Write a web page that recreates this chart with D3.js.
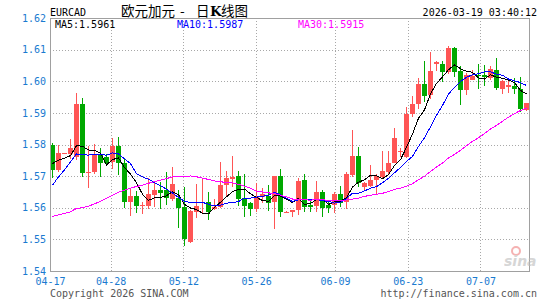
<!DOCTYPE html>
<html>
<head>
<meta charset="utf-8">
<style>
  body { margin: 0; background: #fff; }
  svg text { font-family: "DejaVu Sans Mono", monospace; font-size: 10px; }
  .grid line { stroke: #a8a8a8; stroke-dasharray: 1,2; shape-rendering: crispEdges; }
  .frame { fill: none; stroke: #a0a0a0; shape-rendering: crispEdges; }
  .ma { fill: none; stroke-width: 1; shape-rendering: crispEdges; }
</style>
</head>
<body>
<div id="chart"></div>
<script src="https://d3js.org/d3.v7.min.js"></script>
<script>
'use strict';

// daily candles, Mon-Sat bars
var dates = ['04-17','04-18','04-19','04-20','04-21','04-22','04-23','04-24','04-25','04-27',
  '04-28','04-29','04-30','05-01','05-02','05-04','05-05','05-06','05-07','05-08',
  '05-09','05-11','05-12','05-13','05-14','05-15','05-16','05-18','05-19','05-20',
  '05-21','05-22','05-23','05-25','05-26','05-27','05-28','05-29','05-30','05-31',
  '06-01','06-02','06-03','06-04','06-05','06-06','06-08','06-09','06-10','06-11',
  '06-12','06-13','06-15','06-16','06-17','06-18','06-19','06-20','06-22','06-23',
  '06-24','06-25','06-26','06-27','06-29','06-30','07-01','07-02','07-03','07-04',
  '07-06','07-07','07-08','07-09','07-10','07-11','07-13','07-14','07-15','07-16'];

var opens = [1.5797,1.5719,1.5771,1.5770,1.5761,1.5927,1.5711,1.5714,1.5770,1.5760,
  1.5745,1.5795,1.5740,1.5618,1.5638,1.5606,1.5605,1.5640,1.5657,1.5655,
  1.5628,1.5630,1.5601,1.5492,1.5587,1.5615,1.5618,1.5596,1.5603,1.5673,
  1.5691,1.5700,1.5630,1.5615,1.5596,1.5635,1.5638,1.5618,1.5700,1.5586,
  1.5586,1.5592,1.5687,1.5610,1.5606,1.5650,1.5608,1.5610,1.5645,1.5619,
  1.5703,1.5764,1.5666,1.5670,1.5687,1.5698,1.5714,1.5743,1.5776,1.5761,
  1.5896,1.5927,1.5991,1.5956,1.6055,1.6054,1.6030,1.6105,1.6032,1.5972,
  1.6005,1.6019,1.6019,1.6011,1.6035,1.5974,1.5982,1.5984,1.5977,1.5909];

var highs = [1.5806,1.5800,1.5774,1.5817,1.5962,1.5946,1.5795,1.5801,1.5789,1.5770,
  1.5819,1.5824,1.5756,1.5662,1.5654,1.5618,1.5695,1.5682,1.5682,1.5713,
  1.5730,1.5656,1.5666,1.5593,1.5675,1.5693,1.5650,1.5627,1.5744,1.5716,
  1.5763,1.5716,1.5706,1.5617,1.5678,1.5663,1.5672,1.5700,1.5721,1.5589,
  1.5592,1.5693,1.5708,1.5627,1.5684,1.5656,1.5624,1.5651,1.5668,1.5714,
  1.5845,1.5793,1.5682,1.5735,1.5706,1.5780,1.5780,1.5852,1.5790,1.5919,
  1.5954,1.6011,1.6064,1.6091,1.6064,1.6064,1.6112,1.6109,1.6048,1.6026,
  1.6037,1.6054,1.6051,1.6048,1.6073,1.6003,1.6003,1.6009,1.6012,1.5930];

var lows = [1.5693,1.5714,1.5769,1.5753,1.5751,1.5698,1.5663,1.5706,1.5698,1.5733,
  1.5724,1.5702,1.5600,1.5575,1.5582,1.5581,1.5597,1.5603,1.5596,1.5608,
  1.5622,1.5537,1.5480,1.5489,1.5568,1.5584,1.5561,1.5593,1.5598,1.5635,
  1.5666,1.5606,1.5572,1.5575,1.5587,1.5614,1.5589,1.5533,1.5572,1.5585,
  1.5570,1.5577,1.5587,1.5587,1.5587,1.5572,1.5584,1.5584,1.5603,1.5596,
  1.5698,1.5666,1.5654,1.5666,1.5640,1.5691,1.5706,1.5740,1.5761,1.5756,
  1.5887,1.5912,1.5935,1.5945,1.6032,1.5998,1.6024,1.6012,1.5924,1.5956,
  1.6003,1.5975,1.5985,1.6003,1.5972,1.5959,1.5963,1.5961,1.5903,1.5905];

var closes = [1.5719,1.5774,1.5772,1.5789,1.5927,1.5711,1.5714,1.5770,1.5742,1.5741,
  1.5795,1.5740,1.5618,1.5638,1.5606,1.5610,1.5645,1.5657,1.5647,1.5630,
  1.5675,1.5600,1.5500,1.5591,1.5606,1.5618,1.5587,1.5603,1.5672,1.5693,
  1.5697,1.5628,1.5606,1.5596,1.5638,1.5645,1.5616,1.5700,1.5587,1.5588,
  1.5592,1.5684,1.5603,1.5601,1.5650,1.5598,1.5600,1.5643,1.5614,1.5706,
  1.5764,1.5679,1.5677,1.5687,1.5701,1.5716,1.5743,1.5820,1.5780,1.5896,
  1.5927,1.5991,1.5954,1.6032,1.6061,1.6030,1.6105,1.6030,1.5972,1.6019,
  1.6016,1.6016,1.6012,1.6040,1.5979,1.6000,1.5987,1.5975,1.5912,1.5930];

// closes before the window, only feed the moving averages
var prevCloses = [1.5610,1.5650,1.5630,1.5600,1.5643,1.5580,1.5540,1.5500,1.5470,1.5490,
  1.5458,1.5440,1.5420,1.5460,1.5470,1.5480,1.5490,1.5510,1.5480,1.5530,
  1.5520,1.5548,1.5530,1.5680,1.5741,1.5720,1.5740,1.5750,1.5770];

var priceTicks = [1.54, 1.55, 1.56, 1.57, 1.58, 1.59, 1.60, 1.61, 1.62];
var dateTicks = ['04-17', '04-28', '05-12', '05-26', '06-09', '06-23', '07-07'];
var maPeriods = [5, 10, 30];
var maColors = ['#000000', '#0000ff', '#ff00ff'];

var symbol = 'EURCAD',
    titleParts = ['欧元加元', '-', '日', 'K', '线图'],
    stamp = '2026-03-19 03:40:12';

var width = 545, height = 300;
var plotL = 50, plotR = 529, plotT = 18, plotB = 271;

var svg = d3.select('#chart').append('svg')
  .attr('width', width).attr('height', height);

var x = d3.scaleBand().domain(dates).range([plotL, plotR]).paddingInner(1 / 6);
var xGrid = d3.scaleLinear().domain([0, dates.length - 1]).range([plotL, plotR]);
var y = d3.scaleLinear().domain([1.54, 1.62]).range([plotB, plotT]);
var bw = x.bandwidth();

// grid
var grid = svg.append('g').attr('class', 'grid');
grid.selectAll('line.h').data(priceTicks.slice(1, -1)).enter().append('line')
  .attr('x1', plotL).attr('x2', plotR)
  .attr('y1', function(d) { return Math.round(y(d)) + 0.5; })
  .attr('y2', function(d) { return Math.round(y(d)) + 0.5; });
grid.selectAll('line.v').data(dateTicks.slice(1)).enter().append('line')
  .attr('y1', plotT).attr('y2', plotB)
  .attr('x1', function(d) { return Math.round(xGrid(dates.indexOf(d))) + 0.5; })
  .attr('x2', function(d) { return Math.round(xGrid(dates.indexOf(d))) + 0.5; });

// moving averages
var all = prevCloses.concat(closes);
var ma = maPeriods.map(function(n) {
  return closes.map(function(c, i) {
    var j = i + prevCloses.length;
    return d3.mean(all.slice(j - n + 1, j + 1));
  });
});

function colour(i) { return closes[i] >= opens[i] ? '#ff5555' : '#00a800'; }

// candles
var candles = svg.append('g').selectAll('g').data(dates).enter().append('g')
  .attr('fill', function(d, i) { return colour(i); })
  .attr('stroke', function(d, i) { return colour(i); })
  .style('shape-rendering', 'crispEdges');

candles.append('line')
  .attr('x1', function(d) { return x(d) + 2.5; })
  .attr('x2', function(d) { return x(d) + 2.5; })
  .attr('y1', function(d, i) { return y(highs[i]); })
  .attr('y2', function(d, i) { return y(lows[i]); });

candles.append('rect')
  .attr('stroke', 'none')
  .attr('x', function(d) { return x(d); })
  .attr('width', bw)
  .attr('y', function(d, i) { return y(Math.max(opens[i], closes[i])); })
  .attr('height', function(d, i) { return Math.max(1, Math.abs(y(opens[i]) - y(closes[i]))); });

var line = d3.line()
  .x(function(d, i) { return x(dates[i]) + 2.5; })
  .y(function(d) { return y(d); });

svg.append('g').selectAll('path').data(ma).enter().append('path')
  .attr('class', 'ma')
  .attr('stroke', function(d, i) { return maColors[i]; })
  .attr('d', line);

// frame
svg.append('rect').attr('class', 'frame')
  .attr('x', plotL + 0.5).attr('y', plotT + 0.5)
  .attr('width', plotR - plotL).attr('height', plotB - plotT);

// axes
var yAxis = svg.append('g').attr('transform', 'translate(' + plotL + ',0)')
  .call(d3.axisLeft(y).tickValues(priceTicks).tickSize(0).tickPadding(4).tickFormat(d3.format('.2f')));
var xAxis = svg.append('g').attr('transform', 'translate(0,' + plotB + ')')
  .call(d3.axisBottom(xGrid).tickValues(dateTicks.map(function(d) { return dates.indexOf(d); }))
    .tickSize(0).tickPadding(7).tickFormat(function(i) { return dates[i]; }));
[yAxis, xAxis].forEach(function(a) {
  a.select('.domain').remove();
  a.selectAll('text').attr('fill', '#1a7ad0')
    .style('font-family', '"DejaVu Sans Mono", monospace').style('font-size', '10px');
});

// legend
var legendX = [55, 177, 298];
svg.append('g').selectAll('text').data(maPeriods).enter().append('text')
  .attr('x', function(d, i) { return legendX[i]; })
  .attr('y', 28)
  .attr('fill', function(d, i) { return maColors[i]; })
  .text(function(d, i) { return 'MA' + d + ':' + ma[i][closes.length - 1].toFixed(4); });

// header
svg.append('text').attr('x', 50).attr('y', 16).attr('fill', '#000').text(symbol);
var titleX = [121, 180, 196, 210, 221];
svg.append('g').selectAll('text').data(titleParts).enter().append('text')
  .attr('x', function(d, i) { return titleX[i]; })
  .attr('y', 16).attr('fill', '#000')
  .style('font-family', function(d) { return d === 'K' ? '"DejaVu Serif", serif' : '"Noto Sans CJK SC", sans-serif'; })
  .style('font-weight', function(d) { return d === 'K' ? 'bold' : 'normal'; })
  .style('font-size', '13.5px')
  .text(function(d) { return d; });
svg.append('text').attr('x', 537).attr('y', 16).attr('text-anchor', 'end').attr('fill', '#000').text(stamp);

// footer
svg.append('text').attr('x', 50).attr('y', 297).attr('fill', '#555').text('Copyright 2026 SINA.COM');
svg.append('text').attr('x', 537).attr('y', 297).attr('text-anchor', 'end').attr('fill', '#555')
  .text('http://finance.sina.com.cn');

// watermark
var logo = svg.append('g').attr('opacity', 0.6);
logo.append('circle').attr('cx', 516).attr('cy', 251).attr('r', 4)
  .attr('fill', 'none').attr('stroke', '#f08080').attr('stroke-width', 2);
logo.append('text').attr('x', 504).attr('y', 266)
  .style('font-family', '"DejaVu Sans", sans-serif').style('font-size', '14px')
  .style('font-weight', 'bold').style('font-style', 'italic')
  .attr('fill', '#bbbbbb').text('sina');
</script>
</body>
</html>
